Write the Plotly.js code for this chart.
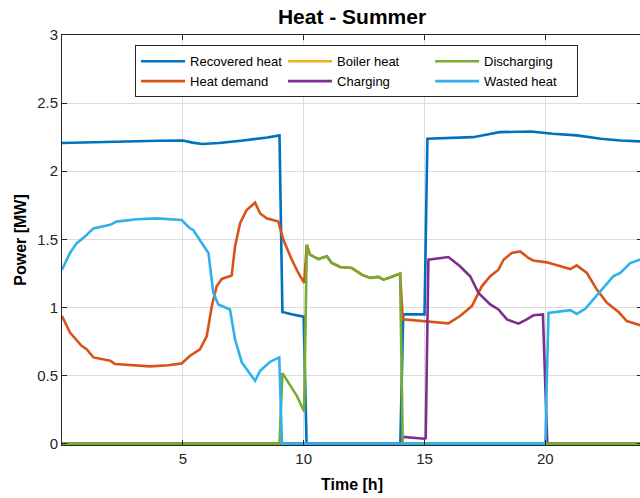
<!DOCTYPE html>
<html><head><meta charset="utf-8">
<script src="https://cdn.plot.ly/plotly-3.0.1.min.js"></script>
<style>html,body{margin:0;padding:0;background:#fff;overflow:hidden}</style>
</head><body><div id="chart" style="width:642px;height:498px"></div>
<script>
// Time [h] and Power [MW] per series
const recoveredT = [0, 1, 2, 3, 4, 5, 5.4, 5.8, 6.5, 7.4, 8.0, 8.5, 9.0, 9.12, 9.5, 10.0, 10.12, 14.0, 14.12, 15.0, 15.12, 16, 17, 17.6, 18.1, 19.4, 20.3, 21.3, 22.3, 23.1, 24];
const recoveredV = [2.207, 2.212, 2.216, 2.22, 2.224, 2.226, 2.21, 2.2, 2.207, 2.224, 2.236, 2.248, 2.263, 0.966, 0.95, 0.932, 0, 0, 0.949, 0.949, 2.238, 2.242, 2.25, 2.27, 2.287, 2.292, 2.275, 2.263, 2.238, 2.226, 2.218];

const demandT = [0, 0.33, 0.81, 1.02, 1.3, 2.0, 2.2, 3.0, 3.64, 4.4, 4.95, 5.3, 5.71, 5.99, 6.2, 6.4, 6.61, 7.02, 7.16, 7.37, 7.64, 7.99, 8.2, 8.47, 8.95, 9.16, 9.51, 9.78, 10.02, 10.13, 10.26, 10.61, 10.96, 11.16, 11.51, 11.99, 12.4, 12.75, 13.09, 13.3, 13.65, 13.99, 14.1, 14.5, 15.0, 15.99, 16.47, 16.96, 17.37, 17.72, 18.06, 18.27, 18.61, 18.96, 19.3, 19.5, 20.06, 20.61, 21.03, 21.3, 21.72, 22.13, 22.55, 23.03, 23.37, 24];
const demandV = [0.937, 0.815, 0.718, 0.693, 0.633, 0.608, 0.584, 0.575, 0.567, 0.575, 0.589, 0.645, 0.693, 0.79, 1.01, 1.155, 1.209, 1.234, 1.447, 1.618, 1.715, 1.769, 1.69, 1.654, 1.63, 1.496, 1.35, 1.253, 1.18, 1.46, 1.387, 1.355, 1.375, 1.326, 1.297, 1.29, 1.241, 1.217, 1.224, 1.204, 1.224, 1.248, 0.912, 0.905, 0.9, 0.883, 0.937, 1.01, 1.155, 1.229, 1.277, 1.35, 1.40, 1.411, 1.363, 1.345, 1.331, 1.302, 1.282, 1.309, 1.253, 1.131, 1.034, 0.966, 0.9, 0.865];

const boilerT = [0, 24];
const boilerV = [0, 0];

const chargingT = [0, 14.0, 14.12, 14.5, 15.0, 15.05, 15.16, 15.99, 16.47, 16.89, 17.23, 17.72, 18.06, 18.41, 18.89, 19.23, 19.51, 19.9, 20.08, 24];
const chargingV = [0, 0, 0.049, 0.042, 0.036, 0.04, 1.35, 1.37, 1.302, 1.229, 1.107, 1.022, 0.985, 0.912, 0.881, 0.912, 0.942, 0.949, 0, 0];

const dischargingT = [0, 9.0, 9.12, 9.44, 9.71, 10.02, 10.13, 10.26, 10.61, 10.96, 11.16, 11.51, 11.99, 12.4, 12.75, 13.09, 13.3, 13.65, 13.99, 14.1, 24];
const dischargingV = [0, 0, 0.518, 0.426, 0.353, 0.236, 1.46, 1.387, 1.355, 1.375, 1.326, 1.297, 1.29, 1.241, 1.217, 1.224, 1.204, 1.224, 1.248, 0, 0];

const wastedT = [0, 0.33, 0.61, 0.95, 1.3, 1.99, 2.26, 3.09, 3.92, 4.95, 5.3, 5.43, 5.92, 6.06, 6.26, 6.47, 6.95, 7.16, 7.44, 7.99, 8.2, 8.61, 8.99, 9.1, 20.0, 20.13, 21.03, 21.3, 21.65, 22.27, 22.82, 23.1, 23.51, 24];
const wastedV = [1.277, 1.40, 1.472, 1.52, 1.58, 1.606, 1.63, 1.647, 1.654, 1.642, 1.58, 1.569, 1.436, 1.40, 1.107, 1.022, 0.985, 0.766, 0.596, 0.462, 0.535, 0.601, 0.633, 0, 0, 0.96, 0.98, 0.952, 0.99, 1.12, 1.23, 1.253, 1.326, 1.355];

const xTicks = [5, 10, 15, 20];
const yTicks = [0, 0.5, 1, 1.5, 2, 2.5, 3];

const series = [
  {name: 'Recovered heat', t: recoveredT, v: recoveredV, color: '#0072BD', rank: 1},
  {name: 'Heat demand', t: demandT, v: demandV, color: '#D95319', rank: 4},
  {name: 'Boiler heat', t: boilerT, v: boilerV, color: '#EDB120', rank: 2},
  {name: 'Charging', t: chargingT, v: chargingV, color: '#7E2F8E', rank: 5},
  {name: 'Discharging', t: dischargingT, v: dischargingV, color: '#77AC30', rank: 3},
  {name: 'Wasted heat', t: wastedT, v: wastedV, color: '#2FB2EC', rank: 6}
];

const traces = series.map(s => ({
  type: 'scatter', mode: 'lines', name: s.name, x: s.t, y: s.v,
  line: {color: s.color, width: 2.6}, legendrank: s.rank
}));

const FONT = 'Liberation Sans, Arial, sans-serif';
const axisCommon = {
  showline: true, linecolor: '#262626', linewidth: 1, mirror: 'ticks',
  ticks: 'inside', ticklen: 5, tickcolor: '#262626', tickwidth: 1,
  showgrid: true, gridcolor: '#DCDCDC', gridwidth: 1, zeroline: false,
  tickfont: {family: FONT, size: 15, color: '#262626'}
};

const layout = {
  width: 642, height: 498,
  margin: {l: 62, r: 0, t: 35, b: 53},
  paper_bgcolor: '#fff', plot_bgcolor: '#fff',
  title: {text: 'Heat - Summer', x: 0.5, xref: 'paper', y: 0.966, yanchor: 'middle',
    font: {family: FONT, size: 21, color: '#000', weight: 'bold'}},
  xaxis: Object.assign({}, axisCommon, {
    range: [0, 24], tickvals: xTicks, ticktext: xTicks.map(String),
    title: {text: 'Time [h]', standoff: 12, font: {family: FONT, size: 16, color: '#000', weight: 'bold'}}
  }),
  yaxis: Object.assign({}, axisCommon, {
    range: [-0.01, 3], tickvals: yTicks, ticktext: yTicks.map(String),
    title: {text: 'Power [MW]', standoff: 6, font: {family: FONT, size: 16, color: '#000', weight: 'bold'}}
  }),
  showlegend: true,
  legend: {
    orientation: 'h', x: 0.126, xanchor: 'left', y: 0.975, yanchor: 'top',
    bgcolor: '#fff', bordercolor: '#262626', borderwidth: 1,
    font: {family: FONT, size: 13, color: '#000'},
    itemwidth: 44, entrywidth: 88, tracegroupgap: 0
  }
};

Plotly.newPlot('chart', traces, layout, {displayModeBar: false, staticPlot: true});
</script>
</body></html>
